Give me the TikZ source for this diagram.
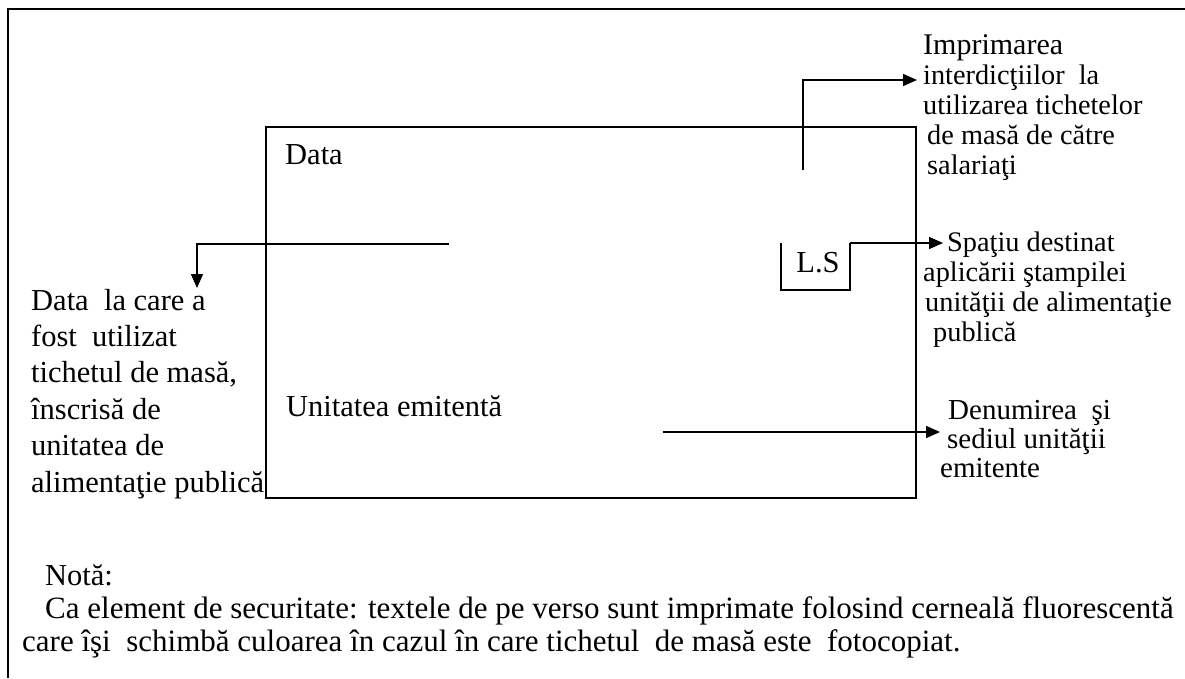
\documentclass[tikz,border=0pt]{standalone}
\usepackage{fontspec}
\setmainfont{Liberation Serif}
\usetikzlibrary{arrows.meta}
\begin{document}
\begin{tikzpicture}[x=1pt,y=-1pt,
  frame/.style={line width=2pt},
  ln/.style={line width=1.5pt},
  arr/.style={ln,-{Triangle[length=14pt,width=12pt]}},
  lbl/.style={anchor=base west,inner sep=0pt,align=left,font=\fontsize{30.5}{35}\selectfont},
  lblr/.style={lbl,font=\fontsize{28.3}{30}\selectfont},
  ticket/.style={draw,ln,inner sep=0pt,anchor=north west,minimum width=650pt,minimum height=371pt}]
\useasboundingbox (0,0) rectangle (1185,678);
% outer frame (open at right and bottom)
\draw[frame] (1185,9) -- (8,9) -- (8,678);
% ticket
\node[ticket] (ticket) at (265,126) {};
\node[lbl] (data) at (285,164) {Data};
\node[lbl] (unit) at (286,416) {Unitatea emitentă};
% L.S box
\coordinate (lsA) at (781,243);
\coordinate (lsB) at (850,243);
\draw[ln] (lsA) -- (781,290) -- (850,290) -- (lsB);
\node[lbl,anchor=base] (ls) at (818,272) {L.S};
% left annotation (base = last line)
\node[lbl,font=\fontsize{30.5}{36.4}\selectfont] (leftnote) at (31,492) {Data\ \ la care a\\fost\ \ utilizat\\tichetul de masă,\\înscrisă de\\unitatea de\\alimentaţie publică};
\coordinate (dstart) at (449,244);
\coordinate (dtip) at (197,288);
\draw[arr] (dstart) -| (dtip);
% top right annotation
\node[lblr] (imp) at (923,174) {{\fontsize{30}{30}\selectfont Imprimarea}\\interdicţiilor\ \ la\\utilizarea tichetelor\\\hspace*{4pt}de masă de către\\\hspace*{4pt}salariaţi};
\coordinate (istart) at (803,170);
\coordinate (itip) at (917,80);
\draw[arr] (istart) |- (itip);
% L.S annotation
\node[lblr] (spatiu) at (923,341) {\hspace*{24pt}Spaţiu destinat\\aplicării ştampilei\\\hspace*{2pt}unităţii de alimentaţie\\\hspace*{10pt}publică};
\coordinate (stip) at (943,243);
\draw[arr] (lsB) -- (stip);
% emitent annotation
\node[lbl,font=\fontsize{29}{29}\selectfont] (denum) at (940,477) {\hspace*{8pt}Denumirea\ \ şi\\\hspace*{7pt}sediul unităţii\\emitente};
\coordinate (estart) at (663,432);
\coordinate (etip) at (940,432);
\draw[arr] (estart) -- (etip);
% note
\node[lbl] (nota) at (45,585) {Notă:};
\node[lbl,font=\fontsize{31}{33}\selectfont] (notatext) at (22,651) {\hspace*{23pt}Ca element de securitate: textele de pe verso sunt imprimate folosind cerneală fluorescentă\\care îşi\ \ schimbă culoarea în cazul în care tichetul\ \ de masă este\ \ fotocopiat.};
\end{tikzpicture}
\end{document}
